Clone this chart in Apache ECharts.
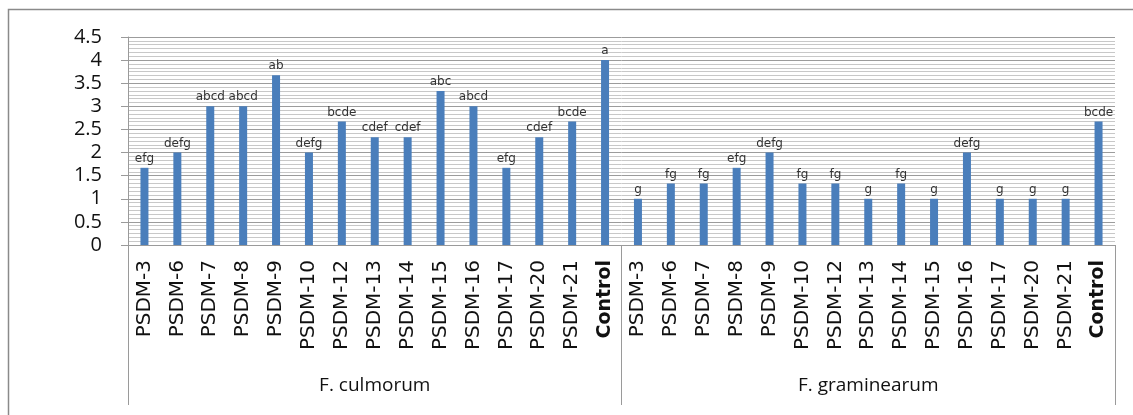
<!DOCTYPE html>
<html>
<head>
<meta charset="utf-8">
<script src="https://cdn.jsdelivr.net/npm/echarts@6/dist/echarts.min.js"></script>
<style>
  html, body { margin: 0; padding: 0; background: #fff; }
  #chart { width: 1133px; height: 415px; }
</style>
</head>
<body>
<div id="chart"></div>
<script>
// Isolates tested against each pathogen, plus an untreated control
const isolates = ['PSDM-3', 'PSDM-6', 'PSDM-7', 'PSDM-8', 'PSDM-9', 'PSDM-10', 'PSDM-12',
  'PSDM-13', 'PSDM-14', 'PSDM-15', 'PSDM-16', 'PSDM-17', 'PSDM-20', 'PSDM-21', 'Control'];
const pathogens = ['F. culmorum', 'F. graminearum'];

// Mean scores per isolate
const culmorumValues = [1.67, 2, 3, 3, 3.67, 2, 2.67, 2.33, 2.33, 3.33, 3, 1.67, 2.33, 2.67, 4];
const graminearumValues = [1, 1.33, 1.33, 1.67, 2, 1.33, 1.33, 1, 1.33, 1, 2, 1, 1, 1, 2.67];

// Significance letters shown above the bars
const culmorumLetters = ['efg', 'defg', 'abcd', 'abcd', 'ab', 'defg', 'bcde', 'cdef', 'cdef',
  'abc', 'abcd', 'efg', 'cdef', 'bcde', 'a'];
const graminearumLetters = ['g', 'fg', 'fg', 'efg', 'defg', 'fg', 'fg', 'g', 'fg', 'g',
  'defg', 'g', 'g', 'g', 'bcde'];

const yTicks = [0, 0.5, 1, 1.5, 2, 2.5, 3, 3.5, 4, 4.5];

const categories = isolates.concat(isolates);
const values = culmorumValues.concat(graminearumValues);
const letters = culmorumLetters.concat(graminearumLetters);

const chart = echarts.init(document.getElementById('chart'));
chart.setOption({
  animation: false,
  textStyle: { fontFamily: 'Open Sans, Liberation Sans, sans-serif' },
  graphic: [{
    type: 'rect',
    shape: { x: 8.5, y: 9.5, width: 1140, height: 420 },
    style: { fill: 'none', stroke: '#8a8a8a', lineWidth: 1.5 },
    silent: true
  }],
  grid: { left: 128, right: 18, top: 37, bottom: 170, containLabel: false },
  xAxis: [{
    type: 'category',
    data: categories,
    position: 'bottom',
    axisLine: { show: true, lineStyle: { color: '#9a9a9a', width: 1 } },
    axisTick: { show: false },
    axisLabel: {
      interval: 0,
      rotate: 90,
      margin: 15,
      fontSize: 20,
      fontFamily: 'DejaVu Sans',
      color: '#111',
      formatter: function (v) { return v === 'Control' ? '{b|' + v + '}' : v; },
      rich: { b: { fontWeight: 'bold', fontSize: 19, fontFamily: 'DejaVu Sans', color: '#111' } }
    },
    splitLine: { show: false }
  }, {
    type: 'category',
    data: pathogens,
    position: 'bottom',
    axisLine: { show: false },
    axisTick: { show: true, length: 160, interval: 0, lineStyle: { color: '#9a9a9a', width: 1 } },
    axisLabel: { interval: 0, margin: 131, fontSize: 19, color: '#111' },
    splitLine: { show: false }
  }],
  yAxis: {
    type: 'value',
    min: 0,
    max: 4.5,
    interval: 0.5,
    axisLine: { show: true, lineStyle: { color: '#9a9a9a' } },
    axisTick: { show: true, length: 7, lineStyle: { color: '#9a9a9a' } },
    axisLabel: {
      fontSize: 20,
      color: '#111',
      margin: 26,
      formatter: function (v) {
        const t = yTicks.find(function (k) { return Math.abs(k - v) < 1e-6; });
        return t === undefined ? '' : String(t);
      }
    },
    splitLine: { show: true, lineStyle: { color: '#9c9c9c', width: 1 } },
    minorTick: { show: false, splitNumber: 6 },
    minorSplitLine: { show: true, lineStyle: { color: '#c8c8c8', width: 1 } }
  },
  series: [{
    type: 'bar',
    data: values.map(function (v, i) { return { value: v, letter: letters[i] }; }),
    barWidth: 8,
    itemStyle: { color: '#4a7ebb' },
    label: {
      show: true,
      position: 'top',
      distance: 3,
      fontSize: 12,
      fontFamily: 'DejaVu Sans',
      color: '#333',
      formatter: function (p) { return letters[p.dataIndex]; }
    }
  }]
});
</script>
</body>
</html>
